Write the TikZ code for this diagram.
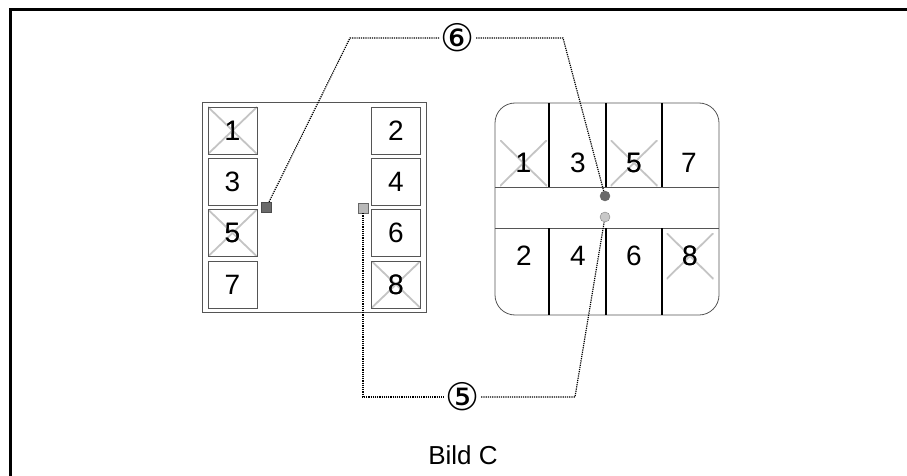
\documentclass[tikz,border=0pt]{standalone}
\usepackage{fontspec}
\setmainfont{Liberation Sans}
\newfontfamily\symfont{DejaVu Sans}
\usetikzlibrary{positioning}
\definecolor{boxgray}{HTML}{555555}
\definecolor{crossgray}{HTML}{C4C4C4}
\definecolor{darkled}{HTML}{6A6A6A}
\definecolor{lightled}{HTML}{C8C8C8}

\begin{document}
\begin{tikzpicture}[x=1pt, y=-1pt,
    keybox/.style={draw=boxgray, line width=0.8pt, minimum width=49pt, minimum height=47pt, inner sep=0pt, font=\fontsize{28}{28}\selectfont},
    crossed/.style={path picture={\draw[crossgray, line width=1.8pt] (path picture bounding box.north west) -- (path picture bounding box.south east) (path picture bounding box.north east) -- (path picture bounding box.south west);}},
    cellkey/.style={minimum width=47pt, minimum height=46pt, inner sep=0pt, font=\fontsize{28}{28}\selectfont},
    link/.style={densely dotted, line width=1.2pt},
    callout/.style={inner sep=1pt, font=\symfont\fontsize{38}{38}\selectfont}]
    \useasboundingbox (0,0) rectangle (907,476);
    \draw[line width=3pt] (10,476) -- (10,10) -- (907,10);

    % left unit
    \draw[boxgray, line width=0.8pt] (202,102) rectangle (426,312);
    \foreach \n/\y in {1/130.5, 3/181.5, 5/233, 7/284.5} {
        \node[keybox] (box\n) at (232.5,\y) {\n};
    }
    \foreach \n/\y in {2/130.5, 4/181.5, 6/233, 8/284.5} {
        \node[keybox] (box\n) at (396,\y) {\n};
    }
    \foreach \n in {1,5,8} {
        \node[keybox, crossed] at (box\n) {\n};
    }
    \node[draw=black!70, fill=darkled, minimum size=10pt, inner sep=0pt] (ledA) at (266.5,207) {};
    \node[draw=black!60, fill=lightled!80!gray, minimum size=10pt, inner sep=0pt] (ledB) at (363,208) {};

    % right unit
    \draw[boxgray, line width=0.8pt, rounded corners=20pt] (495,103) rectangle (719,315);
    \draw[boxgray, line width=1pt] (495,187) -- (719,187) (495,228) -- (719,228);
    \foreach \x in {549,606,662} {
        \draw[line width=1.6pt] (\x,103) -- (\x,187) (\x,228) -- (\x,315);
    }
    \foreach \n/\x/\y in {1/523.5/163, 3/578/163, 5/634/163, 7/689/163, 2/524/256, 4/578/256, 6/634/256, 8/690/256} {
        \node[cellkey] (cell\n) at (\x,\y) {\n};
    }
    \foreach \n in {1,5,8} {
        \node[cellkey, crossed] at (cell\n) {\n};
    }
    \node[circle, draw=black!60, fill=darkled, minimum size=10pt, inner sep=0pt] (dotA) at (605,196) {};
    \node[circle, draw=black!50, fill=lightled, minimum size=10pt, inner sep=0pt] (dotB) at (605,217) {};

    % callouts
    \node[callout] (lbl6) at (458,38) {⑥};
    \node[callout] (lbl5) at (463,397) {⑤};
    \coordinate (bend6a) at (350,38);
    \coordinate (bend6b) at (563,38);
    \coordinate (bend5) at (575,397);
    \draw[link] (ledA) -- (bend6a) -- (lbl6);
    \draw[link] (lbl6) -- (bend6b) -- (dotA);
    \draw[link] (ledB) -- (ledB |- lbl5) -- (lbl5);
    \draw[link] (lbl5) -- (bend5) -- (dotB);

    \node[font=\fontsize{26}{26}\selectfont] (caption) at (463,455) {Bild C};
\end{tikzpicture}
\end{document}
